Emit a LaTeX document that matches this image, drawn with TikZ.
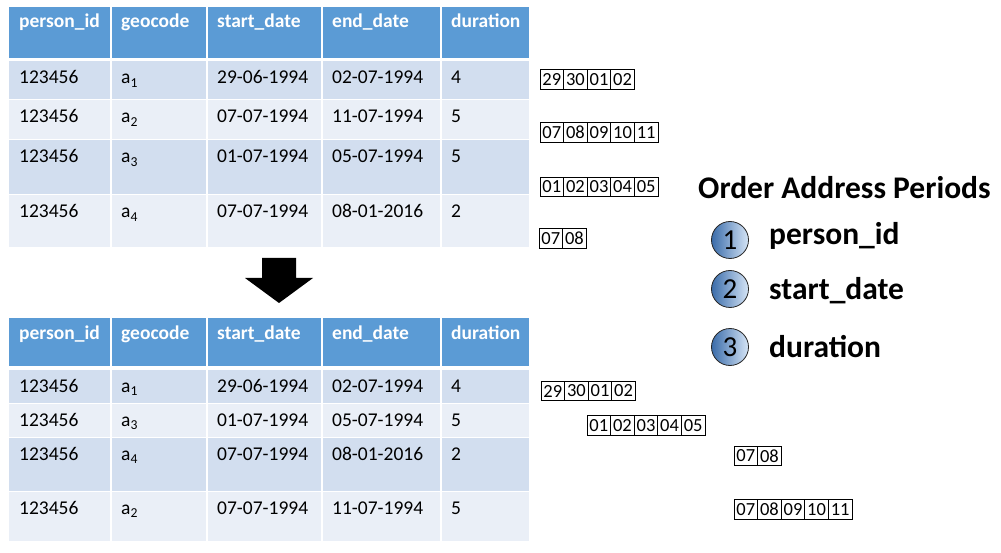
\documentclass[tikz,border=0pt]{standalone}
\usepackage{fontspec}
\setmainfont{Carlito}
\usetikzlibrary{positioning}

\definecolor{hdrblue}{RGB}{91,155,213}
\definecolor{rowdark}{RGB}{210,222,239}
\definecolor{rowlight}{RGB}{234,239,247}
\definecolor{balldark}{RGB}{58,108,170}
\definecolor{balllight}{RGB}{214,229,246}

\tikzset{
  hdrcell/.style={anchor=base west, inner sep=0pt, text=white,
    font=\fontsize{19.5}{23}\selectfont\bfseries},
  datacell/.style={anchor=base west, inner sep=0pt,
    font=\fontsize{19.5}{23}\selectfont},
  daybox/.style={draw=black, line width=0.8pt, inner sep=0pt, outer sep=0pt,
    minimum width=23.6pt, minimum height=19.5pt,
    font=\fontsize{18.5}{20}\selectfont},
  ball/.style={circle, draw=black!85, line width=0.8pt, minimum size=37pt,
    inner sep=0pt, left color=balldark, right color=balllight,
    font=\fontsize{29}{30}\selectfont},
  keytext/.style={anchor=base west, inner sep=0pt,
    font=\fontsize{31.5}{36}\selectfont\bfseries},
}

\begin{document}
\begin{tikzpicture}[x=1pt, y=-1pt]
      \useasboundingbox (0,0) rectangle (1001,553);

      % table before ordering
      \fill[hdrblue] (9,7) rectangle (529,58);
      \foreach \t/\b/\c in {61/99/rowdark, 100/139/rowlight, 140/194/rowdark, 195/247/rowlight}
        \fill[\c] (9,\t) rectangle (529,\b);
      \foreach \x in {111,207,322,441}
        \draw[white, line width=2.5pt] (\x,7) -- (\x,247);
      \foreach \x/\name [count=\c] in {9/person\_id, 111/geocode, 207/start\_date, 322/end\_date, 441/duration}
        \node[hdrcell] (uh-\c) at ({\x+10},28) {\name};
      \foreach \y/\g/\s/\e/\d [count=\r] in {61/1/29-06-1994/02-07-1994/4, 100/2/07-07-1994/11-07-1994/5,
                                            140/3/01-07-1994/05-07-1994/5, 195/4/07-07-1994/08-01-2016/2} {
        \node[datacell] (u\r-1) at (19,{\y+23}) {123456};
        \node[datacell] (u\r-2) at (121,{\y+23}) {a\textsubscript{\g}};
        \node[datacell] (u\r-3) at (217,{\y+23}) {\s};
        \node[datacell] (u\r-4) at (332,{\y+23}) {\e};
        \node[datacell] (u\r-5) at (451,{\y+23}) {\d};
      }

      % arrow
      \fill[black] (262,258) -- (296,258) -- (296,278) -- (313,278) -- (279,303)
                   -- (245,278) -- (262,278) -- cycle;

      % table after ordering
      \fill[hdrblue] (9,318) rectangle (529,366);
      \foreach \t/\b/\c in {370/403/rowdark, 404/437/rowlight, 438/491/rowdark, 492/541/rowlight}
        \fill[\c] (9,\t) rectangle (529,\b);
      \foreach \x in {111,207,322,441}
        \draw[white, line width=2.5pt] (\x,318) -- (\x,541);
      \foreach \x/\name [count=\c] in {9/person\_id, 111/geocode, 207/start\_date, 322/end\_date, 441/duration}
        \node[hdrcell] (oh-\c) at ({\x+10},339) {\name};
      \foreach \y/\g/\s/\e/\d [count=\r] in {370/1/29-06-1994/02-07-1994/4, 404/3/01-07-1994/05-07-1994/5,
                                            438/4/07-07-1994/08-01-2016/2, 492/2/07-07-1994/11-07-1994/5} {
        \node[datacell] (o\r-1) at (19,{\y+22}) {123456};
        \node[datacell] (o\r-2) at (121,{\y+22}) {a\textsubscript{\g}};
        \node[datacell] (o\r-3) at (217,{\y+22}) {\s};
        \node[datacell] (o\r-4) at (332,{\y+22}) {\e};
        \node[datacell] (o\r-5) at (451,{\y+22}) {\d};
      }

      % day strips, unordered
      \node[daybox, anchor=west] (ua-1) at (540,79.5) {29};
      \foreach \n [count=\k from 2, remember=\k as \p (initially 1)] in {30,01,02}
        \node[daybox, right=0pt of ua-\p] (ua-\k) {\n};
      \node[daybox, anchor=west] (ub-1) at (540,132.5) {07};
      \foreach \n [count=\k from 2, remember=\k as \p (initially 1)] in {08,09,10,11}
        \node[daybox, right=0pt of ub-\p] (ub-\k) {\n};
      \node[daybox, anchor=west] (uc-1) at (540,187) {01};
      \foreach \n [count=\k from 2, remember=\k as \p (initially 1)] in {02,03,04,05}
        \node[daybox, right=0pt of uc-\p] (uc-\k) {\n};
      \node[daybox, anchor=west] (ud-1) at (539,238.5) {07};
      \node[daybox, right=0pt of ud-1] (ud-2) {08};

      % day strips, ordered
      \node[daybox, anchor=west] (oa-1) at (541,391) {29};
      \foreach \n [count=\k from 2, remember=\k as \p (initially 1)] in {30,01,02}
        \node[daybox, right=0pt of oa-\p] (oa-\k) {\n};
      \node[daybox, anchor=west] (ob-1) at (587,425.5) {01};
      \foreach \n [count=\k from 2, remember=\k as \p (initially 1)] in {02,03,04,05}
        \node[daybox, right=0pt of ob-\p] (ob-\k) {\n};
      \node[daybox, anchor=west] (oc-1) at (734,456) {07};
      \node[daybox, right=0pt of oc-1] (oc-2) {08};
      \node[daybox, anchor=west] (od-1) at (734,509.5) {07};
      \foreach \n [count=\k from 2, remember=\k as \p (initially 1)] in {08,09,10,11}
        \node[daybox, right=0pt of od-\p] (od-\k) {\n};

      % ordering keys
      \node[keytext] (title) at (698,199) {Order Address Periods};
      \node[ball] (ord1) at (730,240) {1};
      \node[ball] (ord2) at (730,289) {2};
      \node[ball] (ord3) at (730,347) {3};
      \node[keytext] (key1) at (769,245) {person\_id};
      \node[keytext] (key2) at (769,300) {start\_date};
      \node[keytext] (key3) at (769,357) {duration};
\end{tikzpicture}
\end{document}
